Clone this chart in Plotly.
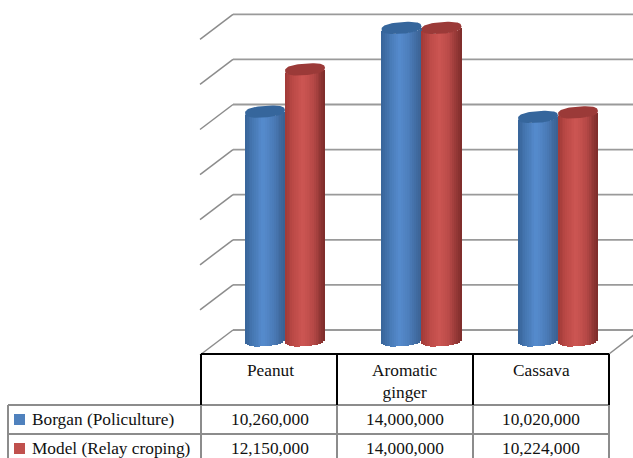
import plotly.graph_objects as go
import numpy as np

categories = ["Peanut", "Aromatic<br>ginger", "Cassava"]
series_names = ["Borgan (Policulture)", "Model (Relay croping)"]
borgan = [10260000, 14000000, 10020000]
model = [12150000, 14000000, 10224000]
grid_values = [0, 2000000, 4000000, 6000000, 8000000, 10000000, 12000000, 14000000]

W, H = 633, 458
X_UNIT, X0 = 136.5, 285.0      # px per category, px of first category
Y_UNIT, Y0 = 22.36e-6, 341.0   # px per value, px of zero


def dx(px):
    return (px - X0) / X_UNIT


def dy(py):
    return (Y0 - py) / Y_UNIT


def lerp(stops, t):
    xs = [s[0] for s in stops]
    return "rgb(%d,%d,%d)" % tuple(np.interp(t, xs, [s[1][i] for s in stops]) for i in range(3))


BLUE = [(-1, (56, 100, 152)), (-0.55, (72, 122, 182)), (-0.1, (86, 140, 206)), (0.4, (76, 125, 186)), (1, (58, 96, 144))]
RED = [(-1, (160, 58, 56)), (-0.55, (190, 75, 72)), (-0.1, (205, 86, 83)), (0.4, (184, 74, 72)), (1, (124, 44, 42))]
CAP = {"blue": "rgb(54,102,156)", "red": "rgb(155,58,56)"}

fig = go.Figure()
R = 20.0 / X_UNIT
EH = 5.8 / Y_UNIT
TILT = 1.5 / Y_UNIT
LAP = 0.6 / Y_UNIT
P = 2.5 / 2
N = 22
edges = np.linspace(-1, 1, N + 1)
centers = (edges[:-1] + edges[1:]) / 2
sw = 2 * R / N * 1.12


def cylinder(vals, stops, cap, sign):
    for t in centers:
        off = TILT * t - EH * (1 - np.abs(t) ** (2 * P)) ** (1 / (2 * P)) + LAP
        xs = [i + sign * R + t * R for i in range(len(vals))]
        fig.add_trace(go.Bar(
            x=xs, y=list(vals), base=[off] * len(vals), width=[sw] * len(vals),
            marker=dict(color=lerp(stops, t), line=dict(width=0)), showlegend=False, hoverinfo="skip"))
    a = np.linspace(0, 2 * np.pi, 80)
    cx = np.sign(np.cos(a)) * np.abs(np.cos(a)) ** (1 / P)
    sy = np.sign(np.sin(a)) * np.abs(np.sin(a)) ** (1 / P)
    for i, v in enumerate(vals):
        fig.add_trace(go.Scatter(
            x=i + sign * R + R * cx,
            y=v + TILT * cx + EH * sy,
            mode="lines", fill="toself", fillcolor=cap, line=dict(width=0, color=cap),
            showlegend=False, hoverinfo="skip"))


cylinder(borgan, BLUE, CAP["blue"], -1)
cylinder(model, RED, CAP["red"], 1)

shapes = []
GRID = "#8c8c8c"
GK = 45.1 / 2000000


def line(x0, y0, x1, y1, color=GRID, w=1.6, layer="above"):
    shapes.append(dict(type="line", xref="x", yref="y", x0=dx(x0), y0=dy(y0), x1=dx(x1), y1=dy(y1),
                       line=dict(color=color, width=w), layer=layer))


for g in grid_values:
    yb = 330 - g * GK
    line(233, yb, W + 2, yb, "#9a9a9a", 1.8, "below")
    line(200, yb + 25, 233, yb, GRID, 1.5, "below")
line(609, 354, 635, 334, GRID, 1.5, "below")

# data table
for x in (201, 337, 473, 609):
    line(x, 405, x, H + 2, GRID, 2)
line(8, 405, 8, H + 2, GRID, 2)
line(8, 405, 609, 405, GRID, 2)
line(8, 434, 609, 434, GRID, 2)
line(201, 354, 609, 354, "#000000", 2)
for x in (201, 337, 473, 609):
    line(x, 354, x, 405, "#000000", 2)

for (y0, y1), c in zip([(414, 425), (443, 454)], ["#4F81BD", "#C0504D"]):
    shapes.append(dict(type="rect", xref="x", yref="y", x0=dx(14), x1=dx(25), y0=dy(y0), y1=dy(y1),
                       fillcolor=c, line=dict(width=0)))

FONT = dict(family="Liberation Serif", size=17.3, color="#111111")
ann = []


def text(x, y, s, anchor="center"):
    ann.append(dict(x=dx(x), y=dy(y), xref="x", yref="y", text=s, showarrow=False, xanchor=anchor,
                    yanchor="middle", font=FONT, align="center"))


for i, (c, cx) in enumerate(zip(categories, (270, 405, 541))):
    ann.append(dict(x=dx(cx), y=dy(359), xref="x", yref="y", text=c, showarrow=False, xanchor="center",
                    yanchor="top", font=FONT, align="center"))
    text(cx, 419, f"{borgan[i]:,}")
    text(cx, 448, f"{model[i]:,}")
text(30, 419, series_names[0], "left")
text(30, 448, series_names[1], "left")

fig.update_layout(
    width=W, height=H, margin=dict(l=0, r=0, t=0, b=0), barmode="overlay", bargap=0,
    paper_bgcolor="white", plot_bgcolor="white", showlegend=False,
    xaxis=dict(range=[dx(0), dx(W)], visible=False, fixedrange=True),
    yaxis=dict(range=[dy(H), dy(0)], visible=False, fixedrange=True),
    shapes=shapes, annotations=ann,
)
fig.write_html("out.html", config={"displayModeBar": False},
               post_script="document.body.style.margin='0';document.body.style.overflow='hidden';")
